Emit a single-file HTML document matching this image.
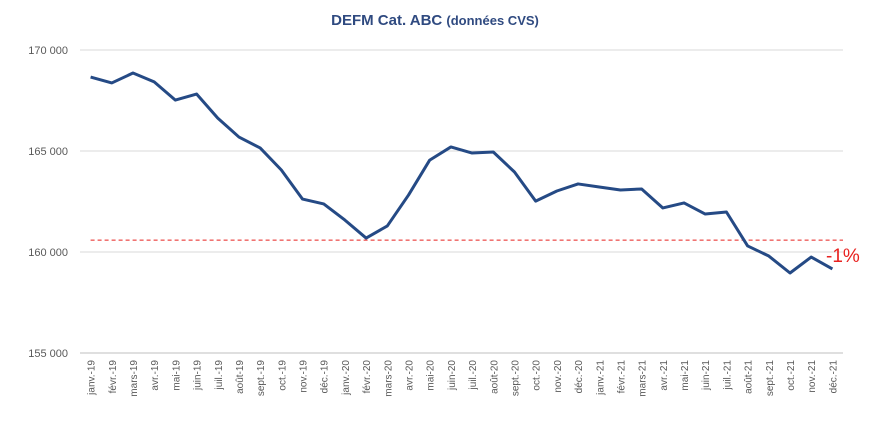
<!DOCTYPE html>
<html><head><meta charset="utf-8"><style>
body{margin:0;background:#fff;}
svg{display:block;font-family:"Liberation Sans",sans-serif;}
</style></head><body>
<svg id="chart" width="869" height="424">
<text x="435" y="25" text-anchor="middle" font-size="15" font-weight="bold" fill="#2F4A80">DEFM Cat. ABC <tspan font-size="13">(données CVS)</tspan></text>
<g id="grid"></g><g id="yticks"></g><g id="xticks"></g><g id="series"></g>
<text x="826" y="262" font-size="19" fill="#E8211F">-1%</text>
</svg>
<script>
const categories=["janv.-19","févr.-19","mars-19","avr.-19","mai-19","juin-19","juil.-19","août-19","sept.-19","oct.-19","nov.-19","déc.-19","janv.-20","févr.-20","mars-20","avr.-20","mai-20","juin-20","juil.-20","août-20","sept.-20","oct.-20","nov.-20","déc.-20","janv.-21","févr.-21","mars-21","avr.-21","mai-21","juin-21","juil.-21","août-21","sept.-21","oct.-21","nov.-21","déc.-21"];
const values=[168660,168370,168860,168420,167520,167820,166630,165690,165150,164060,162620,162380,161580,160690,161290,162820,164550,165200,164900,164950,163960,162520,163020,163370,163220,163070,163120,162180,162430,161880,161980,160300,159800,158960,159750,159160];
const yTicks=[155000,160000,165000,170000];
const yTickLabels=["155 000","160 000","165 000","170 000"];
const refValue=160590;
const NS="http://www.w3.org/2000/svg";
const L=80,R=843,Y0=353,Y1=50,VMIN=155000,VMAX=170000;
const xs=i=>L+(R-L)/categories.length*(i+0.5);
const ys=v=>Y0-(v-VMIN)/(VMAX-VMIN)*(Y0-Y1);
function mk(t,a,p){const e=document.createElementNS(NS,t);for(const k in a)e.setAttribute(k,a[k]);p.appendChild(e);return e;}
const grid=document.getElementById('grid'),yt=document.getElementById('yticks'),xt=document.getElementById('xticks'),ser=document.getElementById('series');
yTicks.forEach((v,i)=>{
 const ln=mk('line',{x1:L,x2:R,y1:ys(v),y2:ys(v),stroke:i==0?'#BFBFBF':'#D9D9D9','stroke-width':1},grid);
 
 
 const t=mk('text',{x:68,y:ys(v)+4,'text-anchor':'end','font-size':11,fill:'#595959'},yt);
 t.textContent=yTickLabels[i];
 
 
});
categories.forEach((c,i)=>{
 const x=xs(i);
 const t=mk('text',{x:0,y:0,'text-anchor':'end','font-size':10,fill:'#595959',transform:`translate(${x+4},${Y0+7}) rotate(-90)`},xt);
 t.textContent=c;
 
 
});
const ref=mk('line',{x1:xs(0),x2:R,y1:ys(refValue),y2:ys(refValue),stroke:'#E8211F','stroke-width':1,'stroke-dasharray':'4,3'},ser);


const pl=mk('polyline',{points:values.map((v,i)=>xs(i)+','+ys(v)).join(' '),fill:'none',stroke:'#254A85','stroke-width':3,'stroke-linejoin':'round'},ser);


</script>
</body></html>
